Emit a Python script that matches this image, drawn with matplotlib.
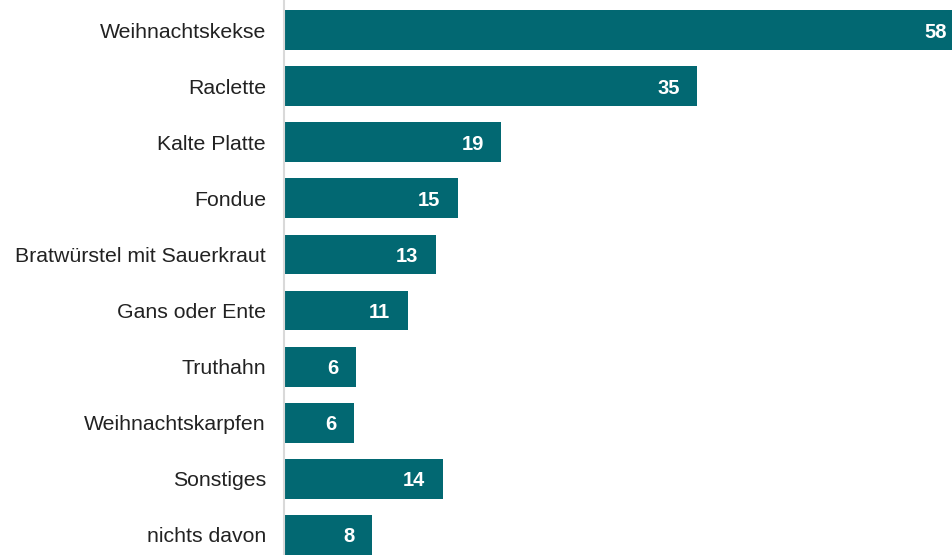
import matplotlib.pyplot as plt
import numpy as np

plt.rcParams['font.family'] = ['Liberation Sans', 'DejaVu Sans']

kategorien = ["Weihnachtskekse", "Raclette", "Kalte Platte", "Fondue",
              "Bratwürstel mit Sauerkraut", "Gans oder Ente", "Truthahn",
              "Weihnachtskarpfen", "Sonstiges", "nichts davon"]
werte = [58.3, 35.4, 18.6, 14.9, 13.0, 10.6, 6.2, 6.0, 13.6, 7.5]
farbe = "#026872"

fig = plt.figure(figsize=(9.52, 5.55), dpi=100)
ax = fig.add_axes([284 / 952, 0, 1 - 284 / 952, 1])

y = np.arange(len(kategorien))
ax.barh(y, werte, height=0.71, color=farbe)

ax.set_xlim(0, 668 / 11.67)
ax.set_ylim(9 + 20 / 56.1, -30 / 56.1)

for i, v in enumerate(werte):
    ax.annotate(f"{v:.0f}", xy=(v, i), xytext=(-12.5, 0), textcoords="offset points",
                ha="right", va="center_baseline", color="white", fontsize=14.5,
                fontweight="bold", annotation_clip=False)

ax.set_yticks(y)
ax.set_yticklabels(kategorien, fontsize=15.3, color="#222222", va="center_baseline")
ax.tick_params(axis="y", length=0, pad=13)
ax.set_xticks([])
for s in ["top", "right", "bottom"]:
    ax.spines[s].set_visible(False)
ax.spines["left"].set_color("#d9d9d9")
ax.spines["left"].set_linewidth(1.5)

fig.savefig("out.png", dpi=100)
